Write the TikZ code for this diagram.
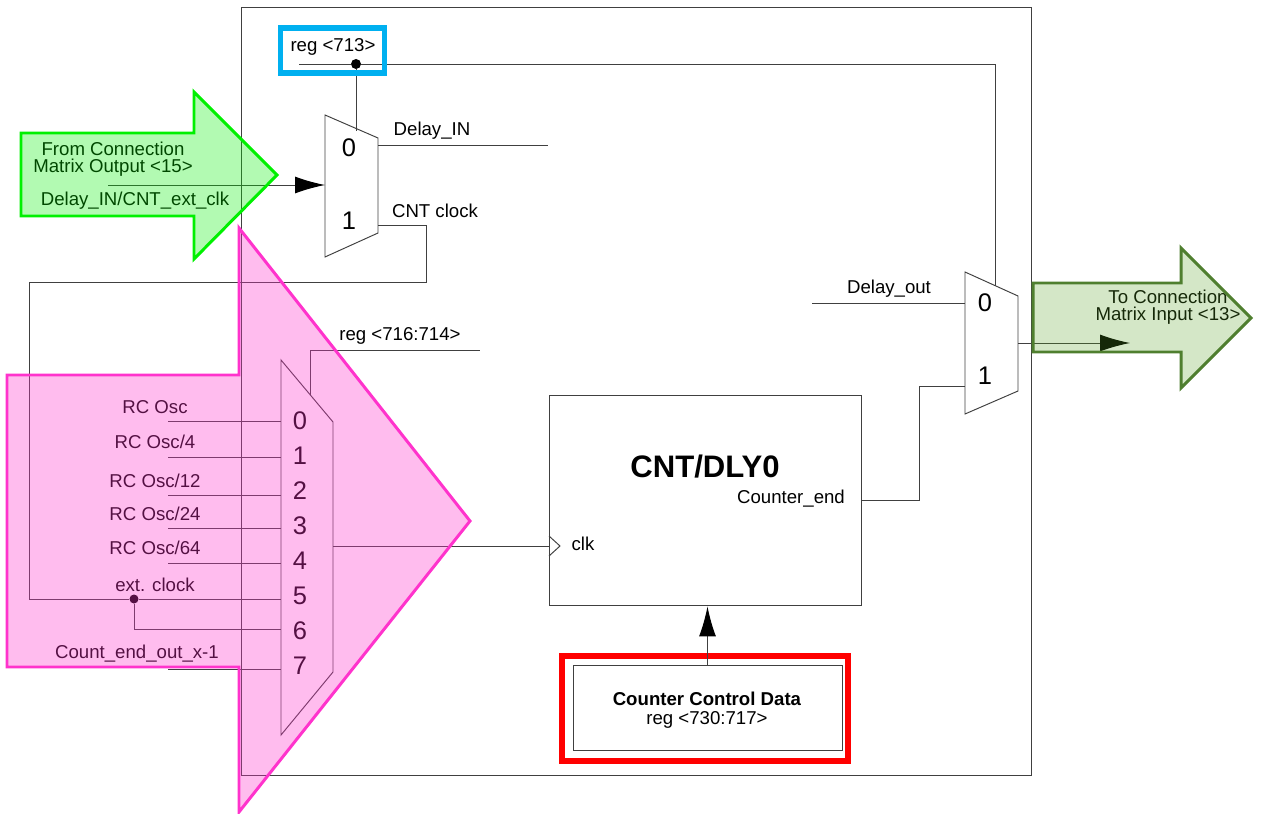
\documentclass[tikz,border=0pt]{standalone}
\usepackage{fontspec}
\usepackage{xcolor}
\setmainfont{Liberation Sans}
\usetikzlibrary{arrows.meta}
\definecolor{linegray}{HTML}{404040}
\definecolor{overgreen}{HTML}{00F000}
\definecolor{overpink}{HTML}{FF33CC}
\definecolor{overolive}{HTML}{4F7F2F}
\definecolor{fillolive}{HTML}{55A020}
\definecolor{regblue}{HTML}{00B0F0}
\begin{document}
\begin{tikzpicture}[x=0.02cm, y=-0.02cm,
    wire/.style={draw=linegray, line width=0.55pt},
    label/.style={inner sep=0pt, yshift=-0.015cm, font=\fontsize{10.6}{12.5}\selectfont},
    digit/.style={inner sep=0pt, font=\fontsize{14.5}{16}\selectfont},
    bigtip/.style={-{Latex[black, length=0.6cm, width=0.34cm]}},
    dot/.style={circle, fill=black, inner sep=0pt, minimum size=0.2cm}]
    \useasboundingbox (0,0) rectangle (1261,814);
    \node[draw=linegray, line width=0.6pt, minimum width=15.82cm, minimum height=15.38cm, inner sep=0pt] (frame) at (636.5,391.5) {};

    % top mux and its select register
    \draw[wire] (325,115) -- (378,138) -- (378,233) -- (325,257) -- cycle;
    \node[digit] (muxazero) at (349,148) {0};
    \node[digit] (muxaone) at (349,221) {1};
    \node[label] (regsel) at (333,46) {reg <713>};
    \coordinate (regstart) at (299,64);
    \node[dot] (regdot) at (356,64) {};
    \coordinate (regcorner) at (995,64);
    \coordinate (muxatop) at (356,131);
    \coordinate (muxbtop) at (995,286);
    \draw[wire] (regstart) -- (regdot) -- (regcorner) -- (muxbtop);
    \draw[wire] (regdot) -- (muxatop);
    \node[label] (delayin) at (432,130) {Delay\_IN};
    \coordinate (delayinl) at (378,145);
    \coordinate (delayinr) at (548,145);
    \draw[wire] (delayinl) -- (delayinr);
    \node[label] (cntclock) at (435,210) {CNT clock};
    \coordinate (clka) at (378,225);
    \coordinate (clkb) at (426,225);
    \coordinate (clkc) at (426,282);
    \coordinate (clkd) at (29,282);
    \coordinate (clke) at (29,599);
    \node[dot, minimum size=0.18cm] (extdot) at (134,599) {};
    \coordinate (muxcfive) at (281,599);
    \draw[wire] (clka) -- (clkb) -- (clkc) -- (clkd) -- (clke) -- (extdot) -- (muxcfive);
    \coordinate (extin) at (108,185);
    \coordinate (muxain) at (325,185);
    \draw[wire, bigtip] (extin) -- (muxain);

    % clock source mux
    \draw[wire] (281,360) -- (333,422) -- (333,672) -- (281,735) -- cycle;
    \node[digit] (czero) at (300,421) {0};
    \node[digit] (cone) at (300,456) {1};
    \node[digit] (ctwo) at (300,491) {2};
    \node[digit] (cthree) at (300,526) {3};
    \node[digit] (cfour) at (300,561) {4};
    \node[digit] (cfive) at (300,596) {5};
    \node[digit] (csix) at (300,631) {6};
    \node[digit] (cseven) at (300,666) {7};
    \node[label] (osca) at (155,406) {RC Osc};
    \node[label] (oscb) at (155,441) {RC Osc/4};
    \node[label] (oscc) at (155,480) {RC Osc/12};
    \node[label] (oscd) at (155,513) {RC Osc/24};
    \node[label] (osce) at (155,547) {RC Osc/64};
    \node[label] (extclock) at (155,584) {ext. clock};
    \node[label] (countend) at (137,653) {Count\_end\_out\_x-1};
    \draw[wire] (168,421) coordinate (ina) -- (281,421) coordinate (ina2);
    \draw[wire] (168,457) coordinate (inb) -- (281,457) coordinate (inb2);
    \draw[wire] (168,495) coordinate (inc) -- (281,495) coordinate (inc2);
    \draw[wire] (168,528) coordinate (ind) -- (281,528) coordinate (ind2);
    \draw[wire] (168,563) coordinate (ine) -- (281,563) coordinate (ine2);
    \draw[wire] (168,669) coordinate (inh) -- (281,669) coordinate (inh2);
    \coordinate (sixcorner) at (134,629);
    \coordinate (muxcsix) at (281,629);
    \draw[wire] (extdot) -- (sixcorner) -- (muxcsix);
    \node[label] (regclk) at (400,335) {reg <716:714>};
    \coordinate (selbot) at (310,395);
    \coordinate (selcorner) at (310,350);
    \coordinate (selend) at (480,350);
    \draw[wire] (selbot) -- (selcorner) -- (selend);

    % counter block
    \node[draw=linegray, line width=0.55pt, minimum width=6.26cm, minimum height=4.22cm, inner sep=0pt] (cnt) at (705.5,500.5) {};
    \node[inner sep=0pt, font=\fontsize{17.7}{19}\selectfont\bfseries] (cnttitle) at (705,467) {CNT/DLY0};
    \node[label] (cntend) at (791,498) {Counter\_end};
    \node[label] (clklabel) at (583,543) {clk};
    \coordinate (clkta) at (549,536);
    \coordinate (clktb) at (560,546);
    \coordinate (clktc) at (549,556);
    \draw[wire] (clkta) -- (clktb) -- (clktc);
    \coordinate (muxcout) at (333,546);
    \coordinate (cntclk) at (549,546);
    \draw[wire] (muxcout) -- (cntclk);
    \node[draw=linegray, line width=0.55pt, minimum width=5.38cm, minimum height=1.7cm, inner sep=0pt] (ccd) at (707.5,707.5) {};
    \node[inner sep=0pt, align=center, font=\fontsize{10.6}{10.9}\selectfont] (ccdtext) at (707,710) {\textbf{Counter Control Data}\\reg <730:717>};
    \node[draw=red, line width=3pt, minimum width=5.72cm, minimum height=2.1cm, inner sep=0pt] (ccdred) at (705,708.5) {};
    \draw[wire, bigtip] (ccd.north) -- (ccd.north |- cnt.south);

    % output mux
    \draw[wire] (965,272) -- (1018,296) -- (1018,391) -- (965,414) -- cycle;
    \node[digit] (muxbzero) at (985,303) {0};
    \node[digit] (muxbone) at (985,376) {1};
    \node[label] (delayout) at (889,288) {Delay\_out};
    \coordinate (delayoutl) at (812,303);
    \coordinate (muxbin) at (965,303);
    \draw[wire] (delayoutl) -- (muxbin);
    \coordinate (enda) at (862,500);
    \coordinate (endb) at (919,500);
    \coordinate (endc) at (919,386);
    \coordinate (endd) at (965,386);
    \draw[wire] (enda) -- (endb) -- (endc) -- (endd);
    \coordinate (muxbout) at (1018,343);
    \coordinate (outend) at (1130,343);
    \draw[wire, bigtip] (muxbout) -- (outend);
    \node[label] (toa) at (1168,296) {To Connection};
    \node[label] (tob) at (1168,315) {Matrix Input <13>};
    \node[label] (froma) at (113,148) {From Connection};
    \node[label] (fromb) at (113,167) {Matrix Output <15>};
    \node[label] (fromc) at (135,200) {Delay\_IN/CNT\_ext\_clk};

    % coloured callouts over the schematic
    \node[draw=regblue, line width=3pt, minimum width=2.08cm, minimum height=0.9cm, inner sep=0pt] (regbox) at (332.5,50.5) {};
    \draw[draw=overgreen, line width=1.7pt, fill=overgreen, fill opacity=0.3, draw opacity=1, line join=miter]
        (21,133) -- (194,133) -- (194,92) -- (277,175) -- (194,259) -- (194,216) -- (21,216) -- cycle;
    \draw[draw=overpink, line width=1.7pt, fill=overpink, fill opacity=0.33, draw opacity=1, line join=miter]
        (239,228) -- (470,521) -- (239,812) -- (239,667) -- (7,667) -- (7,375) -- (239,375) -- cycle;
    \draw[draw=overolive, line width=1.7pt, fill=fillolive, fill opacity=0.25, draw opacity=1, line join=miter]
        (1033,283) -- (1181,283) -- (1181,248) -- (1251,318) -- (1181,388) -- (1181,352) -- (1033,352) -- cycle;
\end{tikzpicture}
\end{document}
